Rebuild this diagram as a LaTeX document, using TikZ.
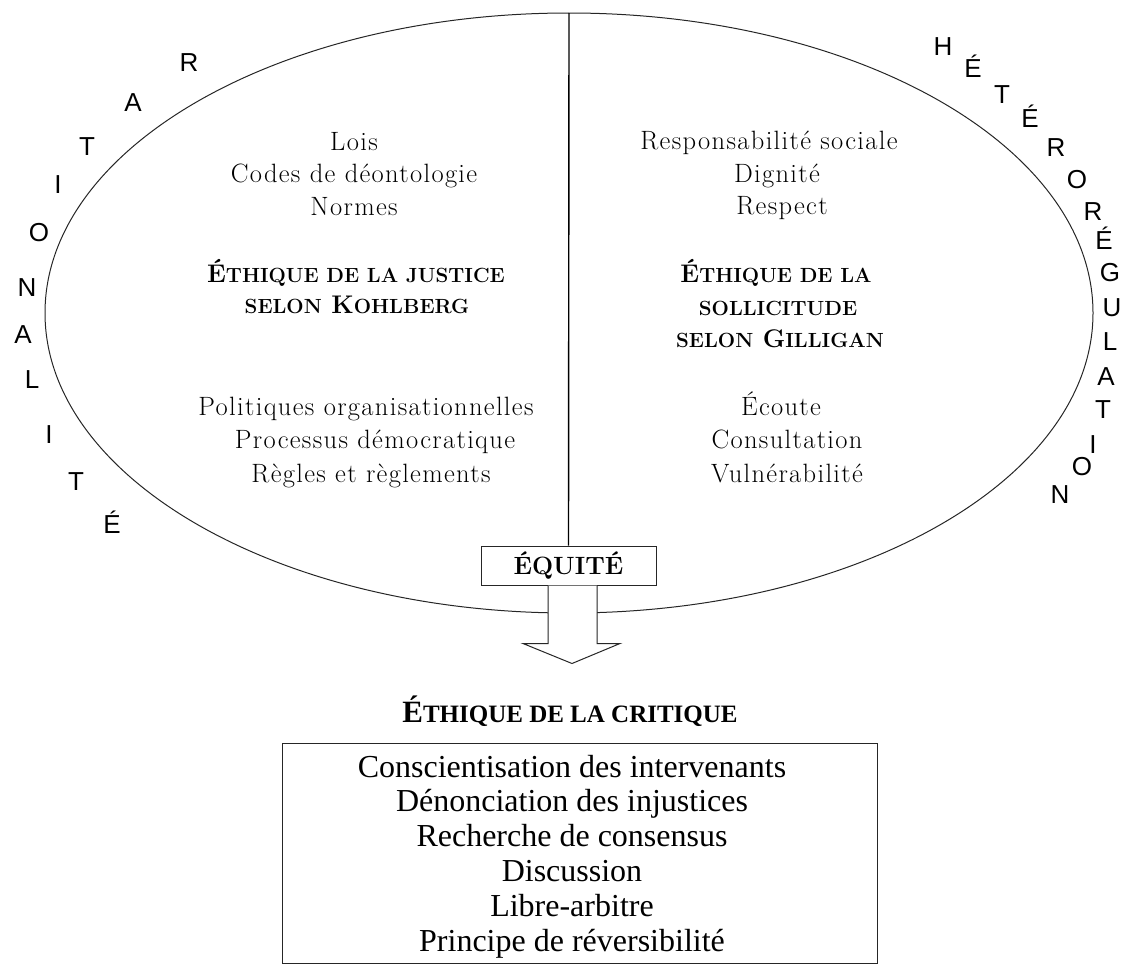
\documentclass[tikz,border=0pt]{standalone}
\usepackage{fontspec}
\usetikzlibrary{calc}
\newfontfamily\tnr{Liberation Serif}
\newfontfamily\ari{Liberation Sans}
\newfontfamily\lmw[LetterSpace=5]{Latin Modern Roman}
\newcommand\hsc[1]{{\fontsize{20.5}{20.5}\selectfont #1}}
\newcommand\tsc[1]{{\fontsize{25}{25}\selectfont #1}}
\tikzset{
  lm/.style={font=\lmw\fontsize{26.5}{30}\selectfont, inner sep=0, anchor=base},
  hd/.style={font=\bfseries\fontsize{25.5}{28}\selectfont, inner sep=0, anchor=base},
  rl/.style={font=\ari\fontsize{26}{26}\selectfont, inner sep=0, anchor=center},
  bt/.style={font=\tnr\fontsize{32}{34}\selectfont, inner sep=0, anchor=base},
  thin/.style={line width=1pt, draw=black!85},
}
\begin{document}
\begin{tikzpicture}[x=1pt,y=-1pt]
\useasboundingbox (0,0) rectangle (1129,977);
% ellipse
\draw[thin] (569,313) ellipse [x radius=524, y radius=300];
\coordinate (etop) at (569,13);
% equity box
\node[draw, thin, minimum width=175pt, minimum height=39pt, inner sep=0,
      font=\bfseries\fontsize{25}{25}\selectfont] (eq) at (568.5,565.5) {ÉQUITÉ};
\draw[line width=1.4pt] (etop) -- (eq.north);
% block arrow
\draw[thin, fill=white]
  ($(eq.south)+(-20.5,0)$) -- ++(0,58) -- ++(-25,0) -- ($(eq.south)+(3.5,78)$)
  -- ($(eq.south)+(51.5,58)$) -- ++(-23,0) -- ($(eq.south)+(28.5,0)$);
% left side
\node[lm] (l1) at (354,150) {Lois};
\node[lm] (l2) at (354,182) {Codes de déontologie};
\node[lm] (l3) at (354,215) {Normes};
\node[hd] (lh1) at (356,282) {É\hsc{THIQUE DE LA JUSTICE}};
\node[hd] (lh2) at (357,313) {\hsc{SELON} K\hsc{OHLBERG}};
\node[lm] (l4) at (366,415) {Politiques organisationnelles};
\node[lm] (l5) at (375,448) {Processus démocratique};
\node[lm] (l6) at (371,482) {Règles et règlements};
% right side
\node[lm] (r1) at (769,149) {Responsabilité sociale};
\node[lm] (r2) at (777,182) {Dignité};
\node[lm] (r3) at (782,214) {Respect};
\node[hd] (rh1) at (776,282) {É\hsc{THIQUE DE LA}};
\node[hd] (rh2) at (778,315) {\hsc{SOLLICITUDE}};
\node[hd] (rh3) at (780,347) {\hsc{SELON} G\hsc{ILLIGAN}};
\node[lm] (r4) at (781,415) {Écoute};
\node[lm] (r5) at (787,448) {Consultation};
\node[lm] (r6) at (787,482) {Vulnérabilité};
% RATIONALITE
\node[rl] (a1) at (189,63) {R};
\node[rl] (a2) at (133,103) {A};
\node[rl] (a3) at (87,147) {T};
\node[rl] (a4) at (58,185) {I};
\node[rl] (a5) at (39,233) {O};
\node[rl] (a6) at (27,288) {N};
\node[rl] (a7) at (23,335) {A};
\node[rl] (a8) at (32,380) {L};
\node[rl] (a9) at (49,435) {I};
\node[rl] (a10) at (76,482) {T};
\node[rl] (a11) at (112,522) {É};
% HETEROREGULATION
\node[rl] (b1) at (943,47) {H};
\node[rl] (b2) at (973,66) {É};
\node[rl] (b3) at (1002,95) {T};
\node[rl] (b4) at (1030,116) {É};
\node[rl] (b5) at (1056,148) {R};
\node[rl] (b6) at (1077,180) {O};
\node[rl] (b7) at (1093,212) {R};
\node[rl] (b8) at (1104,238) {É};
\node[rl] (b9) at (1110,273) {G};
\node[rl] (b10) at (1112,308) {U};
\node[rl] (b11) at (1110,342) {L};
\node[rl] (b12) at (1106,377) {A};
\node[rl] (b13) at (1103,410) {T};
\node[rl] (b14) at (1093,445) {I};
\node[rl] (b15) at (1082,467) {O};
\node[rl] (b16) at (1060,495) {N};
% critique
\node[font=\tnr\bfseries\fontsize{31}{31}\selectfont, inner sep=0, anchor=base] (ct) at (570,722)
  {É\tsc{THIQUE DE LA CRITIQUE}};
\node[draw, thin, minimum width=595pt, minimum height=220pt, inner sep=0] (cb) at (579.5,853) {};
\node[bt] (c1) at (572,777) {Conscientisation des intervenants};
\node[bt] (c2) at (572,811) {Dénonciation des injustices};
\node[bt] (c3) at (572,846) {Recherche de consensus};
\node[bt] (c4) at (572,881) {Discussion};
\node[bt] (c5) at (572,916) {Libre-arbitre};
\node[bt] (c6) at (572,951) {Principe de réversibilité};
\end{tikzpicture}
\end{document}
